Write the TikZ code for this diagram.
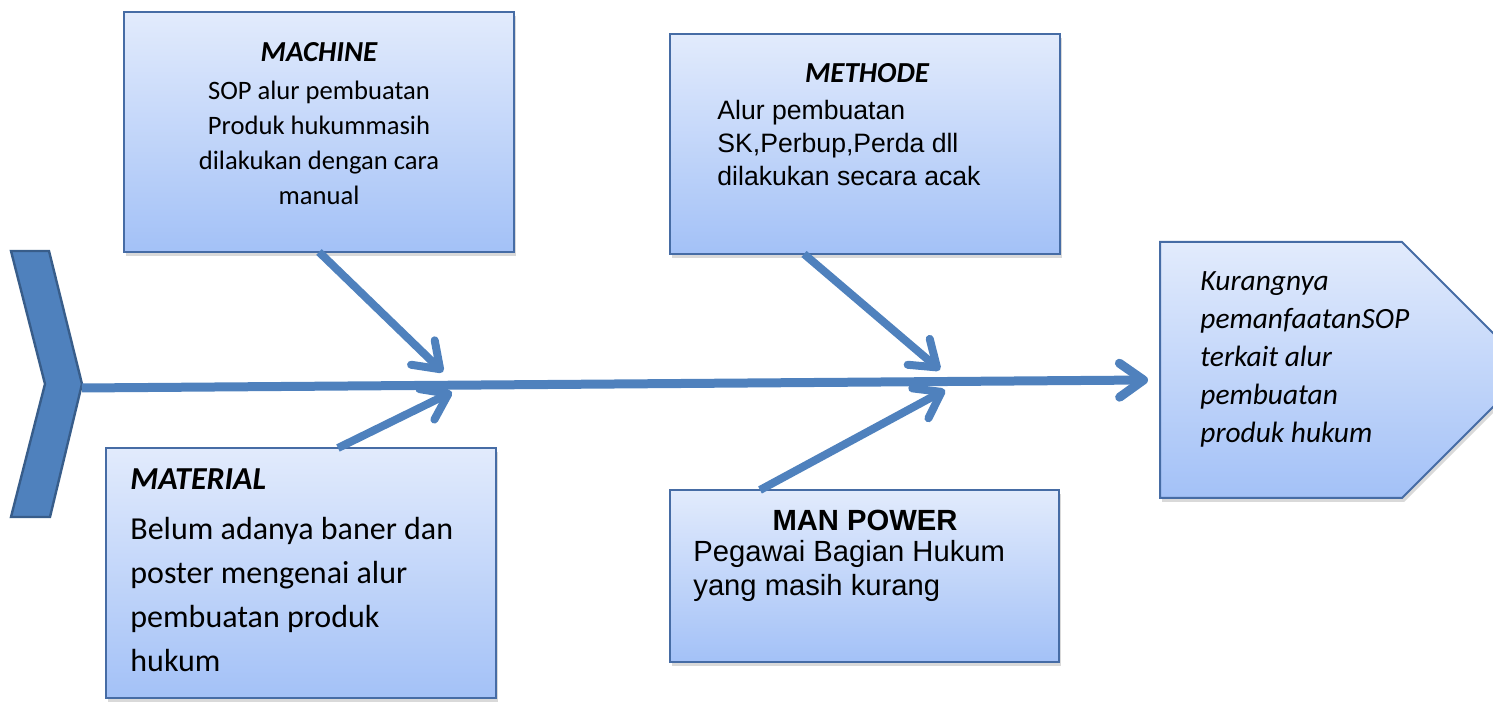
\documentclass[tikz,border=0pt]{standalone}
\usepackage{fontspec}
\setmainfont{Carlito}
\newfontfamily\arialfont{Liberation Sans}
\usetikzlibrary{calc,arrows.meta,shadows,shapes.symbols}
\definecolor{bone}{RGB}{79,129,189}
\definecolor{boneedge}{RGB}{56,93,138}
\definecolor{boxline}{RGB}{70,108,165}
\definecolor{boxtop}{RGB}{226,235,252}
\definecolor{boxbot}{RGB}{163,193,247}
\tikzset{
  fishbox/.style={draw=boxline, line width=1pt, top color=boxtop, bottom color=boxbot,
    inner sep=0pt, outer sep=0pt,
    drop shadow={shadow xshift=1pt, shadow yshift=-2pt, opacity=0.3}},
  boxtext/.style={inner sep=0pt},
  branch/.style={bone, line width=4pt, -{Straight Barb[length=12pt,width=17pt,round]}},
}

\begin{document}
\begin{tikzpicture}[x=0.5pt, y=-0.5pt]
  \useasboundingbox (0,0) rectangle (1493,704);
  \clip (0,0) rectangle (1493,704);

  % head of the fish
  \filldraw[fill=bone, draw=boneedge, line width=1.2pt]
    (11,251) -- (49,251) -- (82,384) -- (50,517) -- (11,517) -- (45,384) -- cycle;
  \coordinate (tail) at (82,388);
  \coordinate (spinetip) at (1148,380);

  % cause boxes
  \node[fishbox, minimum width=195pt, minimum height=120pt] (machine) at (319,132) {};
  \node[fishbox, minimum width=195pt, minimum height=125pt] (material) at (301,573) {};
  \node[fishbox, minimum width=195pt, minimum height=110pt] (methode) at (865,144) {};
  \node[fishbox, minimum width=194.5pt, minimum height=86pt] (manpower) at (864,576) {};
  % effect
  \node[fishbox, shape=signal, signal to=east, signal pointer angle=90,
    minimum width=185pt, minimum height=128pt, anchor=west] (effect) at (1160,370) {};

  % texts
  \node[boxtext, align=center, font=\fontsize{13.3}{17.5}\selectfont] (machinetxt) at (319,124)
    {{\fontsize{14.5}{17.5}\selectfont\bfseries\itshape MACHINE}\\[1.5pt]SOP alur pembuatan\\Produk hukummasih\\dilakukan dengan cara\\manual};
  \node[boxtext, align=left, anchor=west, font=\fontsize{16}{22}\selectfont] (materialtxt) at (130,570)
    {\textbf{\textit{MATERIAL}}\\[3pt]Belum adanya baner dan\\poster mengenai alur\\pembuatan produk\\hukum};
  \node[boxtext, font=\fontsize{14.5}{17}\selectfont\bfseries\itshape] (methodehead) at (867,73) {METHODE};
  \node[boxtext, align=left, anchor=west, font=\arialfont\fontsize{13.3}{16.3}\selectfont] (methodetxt) at (717,143)
    {Alur pembuatan\\SK,Perbup,Perda dll\\dilakukan secara acak};
  \node[boxtext, font=\arialfont\fontsize{14.6}{17}\selectfont\bfseries] (manhead) at (865,520) {MAN POWER};
  \node[boxtext, align=left, anchor=west, font=\arialfont\fontsize{14.6}{17}\selectfont] (mantxt) at (693,571)
    {Pegawai Bagian Hukum\\yang masih kurang};
  \node[boxtext, align=left, anchor=west, font=\fontsize{14.7}{19}\selectfont\itshape] (effecttxt) at (1200,359)
    {Kurangnya\\pemanfaatanSOP\\terkait alur\\pembuatan\\produk hukum};

  % bones
  \coordinate (machinetip) at (443,372);
  \coordinate (materialtip) at (452,392);
  \coordinate (methodetip) at (940,370);
  \coordinate (mantip) at (945,390);
  \draw[branch, line width=4.5pt] (tail) -- (spinetip);
  \draw[branch] (machine.south) -- (machinetip);
  \draw[branch] ($(material.north)+(37,0)$) -- (materialtip);
  \draw[branch] ($(methode.south)+(-61,0)$) -- (methodetip);
  \draw[branch] ($(manpower.north)+(-104,0)$) -- (mantip);
\end{tikzpicture}
\end{document}
